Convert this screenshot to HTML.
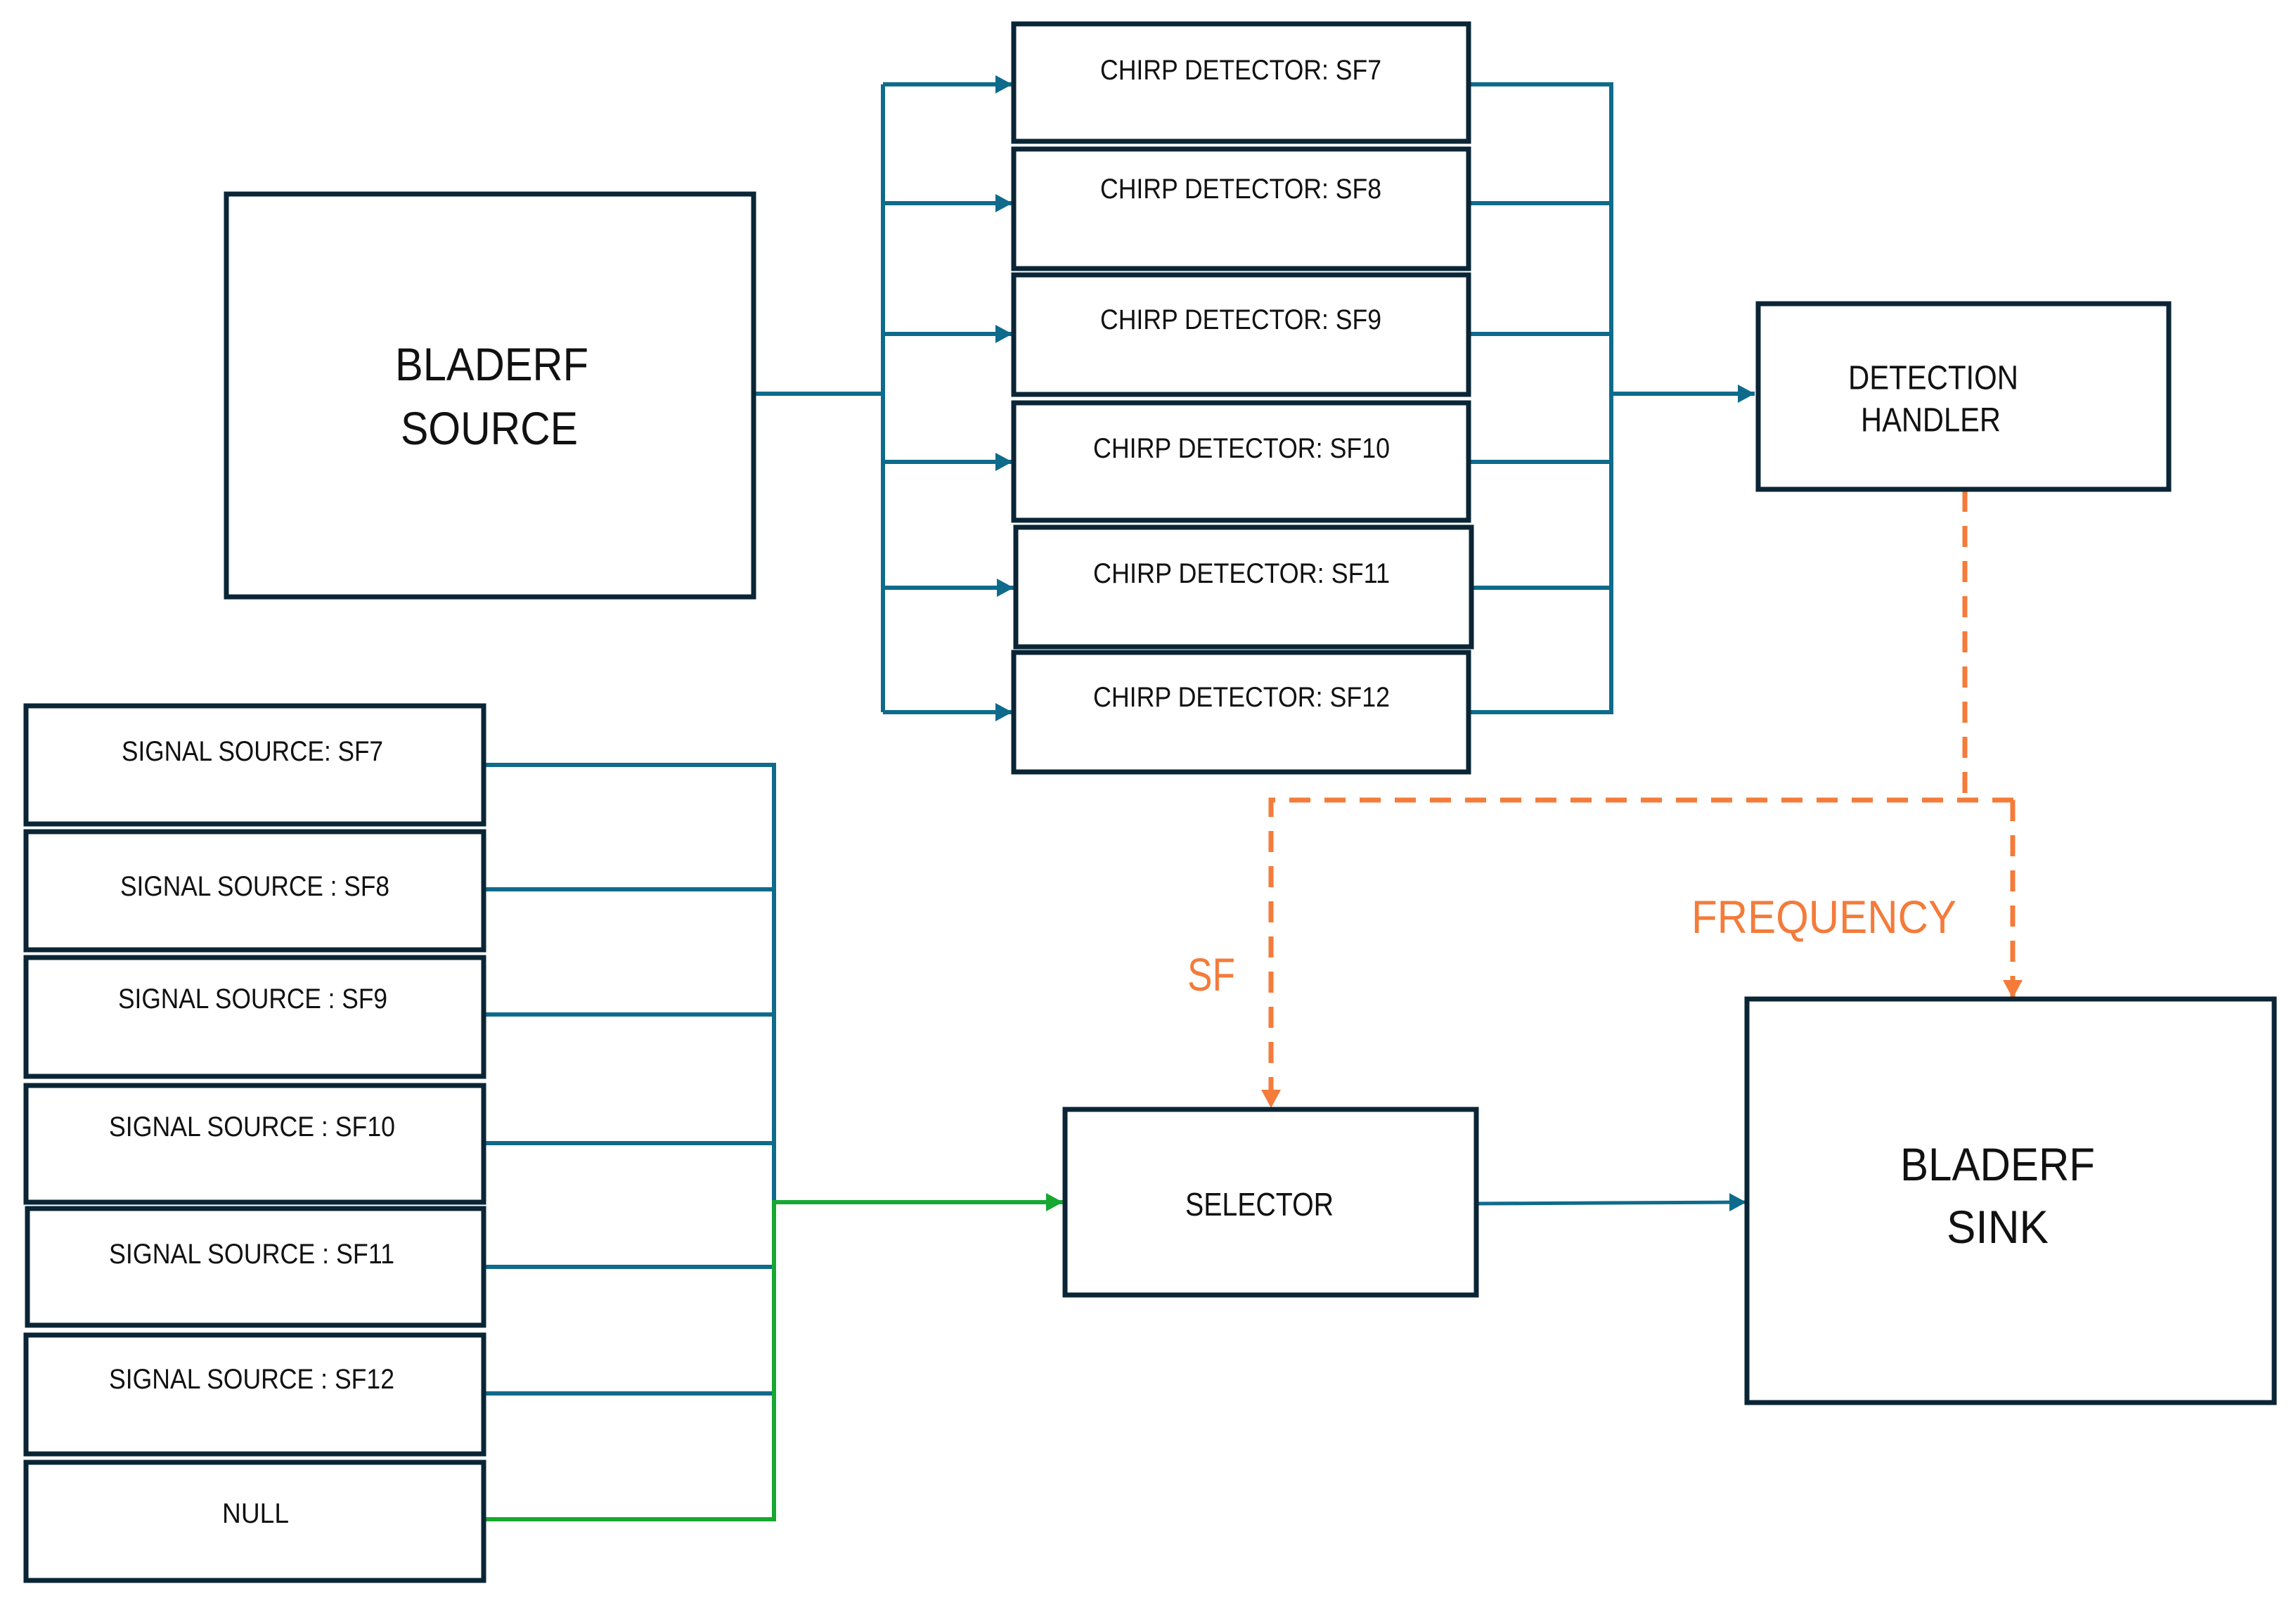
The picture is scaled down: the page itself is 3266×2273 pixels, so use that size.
<!DOCTYPE html>
<html><head><meta charset="utf-8"><style>html,body{margin:0;padding:0;background:#fff}svg{display:block}</style></head>
<body>
<svg width="3266" height="2273" viewBox="0 0 3266 2273" xmlns="http://www.w3.org/2000/svg" font-family="Liberation Sans, sans-serif">
<defs>
<marker id="ab" markerWidth="24" markerHeight="26" refX="24" refY="13" orient="auto" markerUnits="userSpaceOnUse"><path d="M0,0 L24,13 L0,26 z" fill="#0e6b8c"/></marker>
<marker id="ag" markerWidth="24" markerHeight="26" refX="24" refY="13" orient="auto" markerUnits="userSpaceOnUse"><path d="M0,0 L24,13 L0,26 z" fill="#16a831"/></marker>
<marker id="ao" markerWidth="26" markerHeight="28" refX="26" refY="14" orient="auto" markerUnits="userSpaceOnUse"><path d="M0,0 L26,14 L0,28 z" fill="#f47b3a"/></marker>
</defs>
<rect width="3266" height="2273" fill="#fff"/>
<g fill="none" stroke="#0e6b8c" stroke-width="6">
<path d="M1072 560 H1256"/>
<path d="M1256 120 V1013"/>
<path d="M1256 120 H1440" marker-end="url(#ab)"/>
<path d="M1256 289 H1440" marker-end="url(#ab)"/>
<path d="M1256 475 H1440" marker-end="url(#ab)"/>
<path d="M1256 657 H1440" marker-end="url(#ab)"/>
<path d="M1256 836 H1442" marker-end="url(#ab)"/>
<path d="M1256 1013 H1440" marker-end="url(#ab)"/>
<path d="M2089 120 H2292 V1013 H2089"/>
<path d="M2089 289 H2292 M2089 475 H2292 M2089 657 H2292 M2092 836 H2292"/>
<path d="M2292 560 H2496" marker-end="url(#ab)"/>
<path d="M688 1088 H1101 V1802"/>
<path d="M688 1265 H1101 M688 1443 H1101 M688 1626 H1101 M688 1802 H1101 M688 1982 H1101"/>
<path d="M2100 1712 L2484 1710" stroke-width="5" marker-end="url(#ab)"/>
</g>
<g fill="none" stroke="#16a831" stroke-width="6">
<path d="M688 2161 H1101 V1710 H1512" marker-end="url(#ag)"/>
</g>
<g fill="none" stroke="#f47b3a" stroke-width="7" stroke-dasharray="30 20">
<path d="M2795 698 V1138"/>
<path d="M2864 1138 H1808 V1576" marker-end="url(#ao)"/>
<path d="M2863 1138 V1420" marker-end="url(#ao)"/>
</g>
<g fill="none" stroke="#0a2535" stroke-width="7">
<rect x="322" y="276" width="750" height="573"/>
<rect x="1442" y="34" width="647" height="167"/>
<rect x="1442" y="212" width="647" height="170"/>
<rect x="1442" y="391" width="647" height="170"/>
<rect x="1442" y="573" width="647" height="167"/>
<rect x="1445" y="750" width="648" height="170"/>
<rect x="1442" y="928" width="647" height="170"/>
<rect x="2501" y="432" width="584" height="264"/>
<rect x="37" y="1004" width="651" height="168"/>
<rect x="37" y="1183" width="651" height="168"/>
<rect x="37" y="1362" width="651" height="169"/>
<rect x="37" y="1544" width="651" height="166"/>
<rect x="39" y="1719" width="649" height="166"/>
<rect x="37" y="1899" width="651" height="169"/>
<rect x="37" y="2080" width="651" height="168"/>
<rect x="1515" y="1578" width="585" height="264"/>
<rect x="2485" y="1421" width="750" height="574"/>
</g>
<g fill="#111" dominant-baseline="central">
<text x="562" y="518" font-size="66" textLength="275" lengthAdjust="spacingAndGlyphs">BLADERF</text>
<text x="570" y="609" font-size="66" textLength="252" lengthAdjust="spacingAndGlyphs">SOURCE</text>
<text x="1565" y="100" font-size="40" textLength="400" lengthAdjust="spacingAndGlyphs">CHIRP DETECTOR: SF7</text>
<text x="1565" y="269" font-size="40" textLength="400" lengthAdjust="spacingAndGlyphs">CHIRP DETECTOR: SF8</text>
<text x="1565" y="455" font-size="40" textLength="400" lengthAdjust="spacingAndGlyphs">CHIRP DETECTOR: SF9</text>
<text x="1555" y="638" font-size="40" textLength="422" lengthAdjust="spacingAndGlyphs">CHIRP DETECTOR: SF10</text>
<text x="1555" y="816" font-size="40" textLength="422" lengthAdjust="spacingAndGlyphs">CHIRP DETECTOR: SF11</text>
<text x="1555" y="992" font-size="40" textLength="422" lengthAdjust="spacingAndGlyphs">CHIRP DETECTOR: SF12</text>
<text x="2629" y="538" font-size="48" textLength="242" lengthAdjust="spacingAndGlyphs">DETECTION</text>
<text x="2647" y="598" font-size="48" textLength="199" lengthAdjust="spacingAndGlyphs">HANDLER</text>
<text x="173" y="1069" font-size="40" textLength="372" lengthAdjust="spacingAndGlyphs">SIGNAL SOURCE: SF7</text>
<text x="171" y="1261" font-size="40" textLength="383" lengthAdjust="spacingAndGlyphs">SIGNAL SOURCE : SF8</text>
<text x="168" y="1421" font-size="40" textLength="383" lengthAdjust="spacingAndGlyphs">SIGNAL SOURCE : SF9</text>
<text x="155" y="1603" font-size="40" textLength="407" lengthAdjust="spacingAndGlyphs">SIGNAL SOURCE : SF10</text>
<text x="155" y="1784" font-size="40" textLength="406" lengthAdjust="spacingAndGlyphs">SIGNAL SOURCE : SF11</text>
<text x="155" y="1962" font-size="40" textLength="406" lengthAdjust="spacingAndGlyphs">SIGNAL SOURCE : SF12</text>
<text x="316" y="2153" font-size="40" textLength="95" lengthAdjust="spacingAndGlyphs">NULL</text>
<text x="1686" y="1713" font-size="46" textLength="211" lengthAdjust="spacingAndGlyphs">SELECTOR</text>
<text x="2703" y="1656" font-size="66" textLength="277" lengthAdjust="spacingAndGlyphs">BLADERF</text>
<text x="2769" y="1745" font-size="66" textLength="145" lengthAdjust="spacingAndGlyphs">SINK</text>
</g>
<g fill="#f47b3a" dominant-baseline="central">
<text x="1689" y="1386" font-size="66" textLength="68" lengthAdjust="spacingAndGlyphs">SF</text>
<text x="2406" y="1304" font-size="66" textLength="377" lengthAdjust="spacingAndGlyphs">FREQUENCY</text>
</g>
</svg>
</body></html>
